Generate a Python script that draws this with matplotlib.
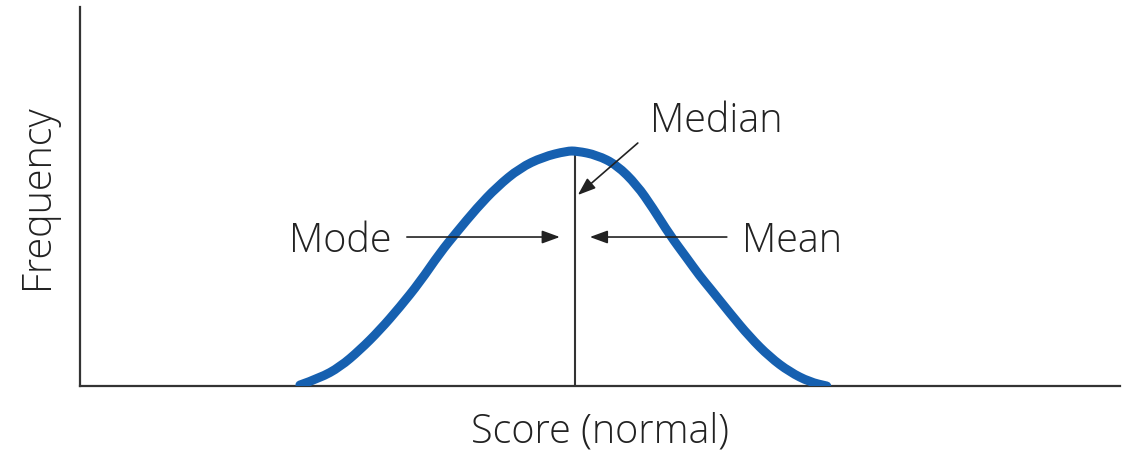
"""
Normal distribution sketch: mode, median and mean coincide at the peak.
"""

import matplotlib.pyplot as plt
from matplotlib.path import Path
from matplotlib.patches import PathPatch

# Curve (score units, frequency units)
score = [220, 240, 260, 280, 300, 320, 340, 360, 377, 397, 417, 440, 463,
         487, 497, 517, 537, 557, 573, 590, 607, 620, 630, 650, 670, 690,
         710, 730, 747]
frequency = [1, 8, 19, 36, 56, 79, 104, 133, 154, 178, 199, 218, 229,
             235, 235, 231, 221, 201, 178, 151, 128, 110, 98, 73, 49, 29,
             14, 4, 0]

center = 495          # mode = median = mean
center_top = 232
x_max, y_max = 1040, 379

labels = ["Mode", "Median", "Mean"]

plt.rcParams['font.family'] = ['Open Sans', 'DejaVu Sans']

fig = plt.figure(figsize=(11.31, 4.55), dpi=100)
ax = fig.add_axes([0.0707, 0.1516, 0.9193, 0.833])

# Smooth the read points: quadratic Bezier segments through the midpoints
pts = list(zip(score, frequency))
verts = [pts[0]]
codes = [Path.MOVETO]
for i in range(1, len(pts) - 1):
    mid = ((pts[i][0] + pts[i + 1][0]) / 2, (pts[i][1] + pts[i + 1][1]) / 2)
    verts += [pts[i], mid]
    codes += [Path.CURVE3, Path.CURVE3]
verts.append(pts[-1])
codes.append(Path.LINETO)
curve = PathPatch(Path(verts, codes), facecolor='none', edgecolor='#1660b0',
                  lw=6.5, capstyle='round', joinstyle='round', zorder=3)
ax.add_patch(curve)

ax.plot([center, center], [0, center_top], color='#333333', lw=1.5, zorder=2)

arrow = dict(arrowstyle='-|>,head_length=0.6,head_width=0.22', color='#222222',
             lw=1.2, mutation_scale=18, shrinkA=0, shrinkB=0)

# Mode arrow (from left), Mean arrow (from right), Median arrow (diagonal)
ax.annotate('', xy=(480, 149), xytext=(327, 149), arrowprops=arrow)
ax.annotate('', xy=(510, 149), xytext=(647, 149), arrowprops=arrow)
ax.annotate('', xy=(498, 191), xytext=(558, 243), arrowprops=arrow)

txt = dict(fontsize=28.5, color='#222222', fontweight='light')
ax.text(312, 134, labels[0], ha='right', va='baseline', **txt)
ax.text(570, 254, labels[1], ha='left', va='baseline', **txt)
ax.text(662, 134, labels[2], ha='left', va='baseline', **txt)

ax.set_xlim(0, x_max)
ax.set_ylim(0, y_max)
ax.set_xticks([])
ax.set_yticks([])
for side in ['top', 'right']:
    ax.spines[side].set_visible(False)
for side in ['left', 'bottom']:
    ax.spines[side].set_color('#333333')
    ax.spines[side].set_linewidth(1.6)

ax.set_xlabel('Score (normal)', fontsize=28.5, color='#222222', fontweight='light',
              labelpad=18)
ax.set_ylabel('Frequency', fontsize=28.5, color='#222222', fontweight='light',
              labelpad=16)

fig.savefig('out.png', dpi=100)
